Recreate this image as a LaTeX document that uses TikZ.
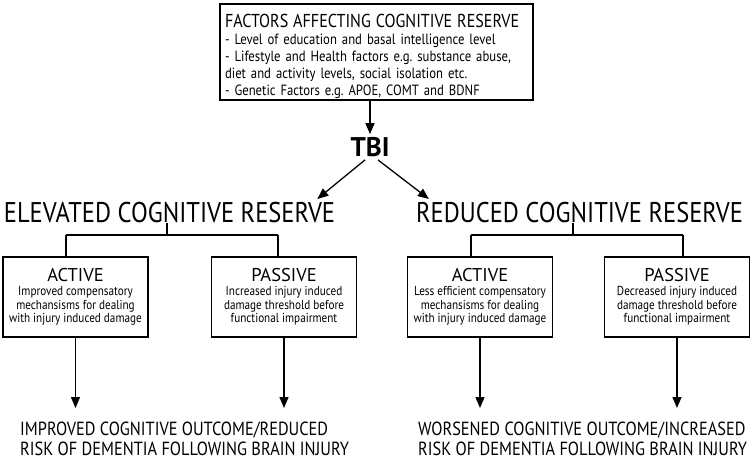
\documentclass[tikz,border=0pt]{standalone}
\usepackage{fontspec}
\setmainfont{PT Sans}
\newfontfamily\narrowfont[FakeStretch=0.86]{PT Sans}
\usetikzlibrary{arrows.meta}
\frenchspacing

\tikzset{
  heading/.style={inner sep=0pt,font=\narrowfont\fontsize{28.5}{30}\selectfont},
  reservebox/.style={draw,line width=1.3pt,minimum width=145pt,minimum height=80pt,
    align=center,inner sep=2pt,font=\narrowfont\fontsize{13}{13.5}\selectfont},
  outcome/.style={inner sep=0pt,align=left,anchor=base west,font=\narrowfont\fontsize{19}{20}\selectfont},
}
\newcommand{\boxtitle}[1]{{\normalfont\fontsize{18.5}{18}\selectfont #1}\\[0.5pt]}

\begin{document}
\begin{tikzpicture}[x=1pt,y=-1pt,>={Triangle[length=11pt,width=9pt]}]
        \useasboundingbox (0,0) rectangle (753,459);
        % factors and TBI
        \node[draw,line width=1.3pt,text width=303pt,inner xsep=5pt,inner ysep=0pt,minimum height=96pt,
              align=left,font=\narrowfont\fontsize{14.8}{17}\selectfont] (1) at (376.5,52)
             {\rule{0pt}{22pt}\mbox{\fontsize{18.7}{17}\selectfont FACTORS AFFECTING COGNITIVE RESERVE}\\
              - Level of education and basal intelligence level\\
              - Lifestyle and Health factors e.g. substance abuse,\\
              diet and activity levels, social isolation etc.\\
              - Genetic Factors e.g. APOE, COMT and BDNF};
        \node[inner sep=3pt,font=\fontsize{27}{27}\selectfont\bfseries] (2) at (370,147) {TBI};

        % the two reserves
        \node[heading] (3) at (169.5,212.5) {ELEVATED COGNITIVE RESERVE};
        \node[heading] (4) at (579.5,212.5) {REDUCED COGNITIVE RESERVE};

        \begin{scope}[every node/.style={reservebox}]
            \node (5) at (75.5,297) {\boxtitle{ACTIVE}Improved compensatory\\ mechansisms for dealing\\ with injury induced damage};
            \node (6) at (284,297) {\boxtitle{PASSIVE}Increased injury induced\\ damage threshold before\\ functional impairment};
            \node (7) at (480,297) {\boxtitle{ACTIVE}Less efficient compensatory\\ mechansisms for dealing\\ with injury induced damage};
            \node (8) at (677,297) {\boxtitle{PASSIVE}Decreased injury induced\\ damage threshold before\\ functional impairment};
        \end{scope}

        % outcomes
        \node[outcome] (9) at (20,455) {IMPROVED COGNITIVE OUTCOME/REDUCED\\ RISK OF DEMENTIA FOLLOWING BRAIN INJURY};
        \node[outcome] (10) at (418,455) {WORSENED COGNITIVE OUTCOME/INCREASED\\ RISK OF DEMENTIA FOLLOWING BRAIN INJURY};

        \begin{scope}[every edge/.style={draw,line width=1.3pt}]
            \path [->] (2.north |- 1.south) edge (2.north);
            \path [->] ([xshift=-5pt]2.south) edge ([xshift=-18pt,yshift=3pt]3.north east);
            \path [->] ([xshift=8pt]2.south) edge ([xshift=13pt,yshift=3pt]4.north west);

            \path [-] ([xshift=-2.5pt]3.south) edge ([xshift=-2.5pt]3.south |- 0,235);
            \path [-] ([xshift=-9.5pt]5.north) edge ([xshift=-9.5pt]5.north |- 0,235);
            \path [-] ([xshift=-6pt]6.north) edge ([xshift=-6pt]6.north |- 0,235);
            \path [-] ([xshift=-9.5pt]5.north |- 0,235) edge ([xshift=-6pt]6.north |- 0,235);

            \path [-] ([xshift=-6.5pt]4.south) edge ([xshift=-6.5pt]4.south |- 0,235);
            \path [-] ([xshift=-9pt]7.north) edge ([xshift=-9pt]7.north |- 0,235);
            \path [-] ([xshift=6pt]8.north) edge ([xshift=6pt]8.north |- 0,235);
            \path [-] ([xshift=-9pt]7.north |- 0,235) edge ([xshift=6pt]8.north |- 0,235);

            \path [->] (5.south) edge (5.south |- 0,408);
            \path [->] (6.south) edge (6.south |- 0,408);
            \path [->] (7.south) edge (7.south |- 0,408);
            \path [->] (8.south) edge (8.south |- 0,408);
        \end{scope}
    \end{tikzpicture}
\end{document}
